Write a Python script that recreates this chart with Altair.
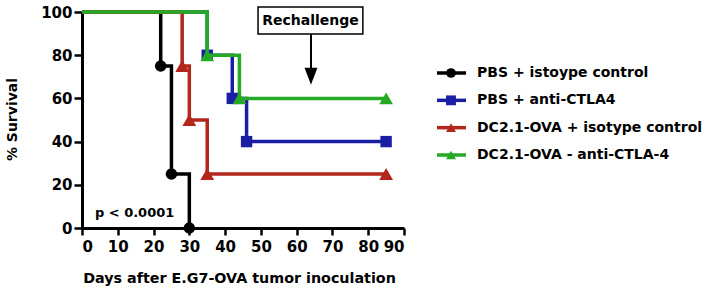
import altair as alt
import pandas as pd

FONT = "DejaVu Sans"

# ---- data ----
series = [
    "PBS + istoype control",
    "PBS + anti-CTLA4",
    "DC2.1-OVA + isotype control",
    "DC2.1-OVA - anti-CTLA-4",
]
colors = ["#000000", "#1a1ea4", "#b3261c", "#26aa26"]
shapes = ["circle", "square", "triangle-up", "triangle-up"]

pbs_iso_days = [0, 22, 25, 30]
pbs_iso_surv = [100, 75, 25, 0]
pbs_ctla_days = [0, 35, 42, 46, 85]
pbs_ctla_surv = [100, 80, 60, 40, 40]
dc_iso_days = [0, 28, 30, 35, 85]
dc_iso_surv = [100, 75, 50, 25, 25]
dc_ctla_days = [0, 35, 44, 85]
dc_ctla_surv = [100, 80, 60, 60]

x_ticks = [0, 10, 20, 30, 40, 50, 60, 70, 80, 90]
y_ticks = [0, 20, 40, 60, 80, 100]

p_label = "p < 0.0001"
rechallenge_label = "Rechallenge"

all_days = [pbs_iso_days, pbs_ctla_days, dc_iso_days, dc_ctla_days]
all_surv = [pbs_iso_surv, pbs_ctla_surv, dc_iso_surv, dc_ctla_surv]

# ---- styling ----
marker_sizes = [135, 130, 190, 190]
legend_sizes = [95, 100, 130, 130]

x_scale = alt.Scale(domain=[0, 90], nice=False, zero=False)
y_scale = alt.Scale(domain=[0, 100], nice=False)

x_axis = alt.Axis(
    values=x_ticks, title="Days after E.G7-OVA tumor inoculation", grid=False,
    tickSize=7, tickWidth=2.5, domainWidth=3, labelPadding=4, labelOverlap=False,
    labelFontSize=15, labelFont=FONT, labelFontWeight="bold",
    titleFontSize=14.3, titleX=157, titleY=50, titleBaseline="middle", titleAlign="center",
)
y_axis = alt.Axis(
    values=y_ticks, title="% Survival", grid=False,
    tickSize=8, tickWidth=2.5, domainWidth=3, labelPadding=2, labelOverlap=False,
    labelFontSize=15, labelFont=FONT, labelFontWeight="bold",
    titleX=-70, titleY=107, titleAngle=-90, titleBaseline="middle", titleAlign="center",
)


def X(field):
    return alt.X(field, scale=x_scale, axis=x_axis)


def Y(field):
    return alt.Y(field, scale=y_scale, axis=y_axis)


layers = []
for i, name in enumerate(series):
    df = pd.DataFrame({"day": all_days[i], "surv": all_surv[i]})
    base = alt.Chart(df)
    line = base.mark_line(interpolate="step-after", strokeWidth=3.5, color=colors[i]).encode(
        x=X("day:Q"), y=Y("surv:Q"), order="day:Q",
    )
    pts = base.transform_filter(alt.datum.day > 0).mark_point(
        shape=shapes[i], filled=True, opacity=1, size=marker_sizes[i], color=colors[i]
    ).encode(x=X("day:Q"), y=Y("surv:Q"))
    layers += [line, pts]

# annotations (positions in data units)
box_df = pd.DataFrame({"day": [49.2], "x2": [78.5], "surv": [89.8], "y2": [102.3],
                       "tx": [63.85], "ty": [96.0], "label": [rechallenge_label]})
box = alt.Chart(box_df).mark_rect(fill="white", stroke="black", strokeWidth=1.5).encode(
    x=X("day:Q"), x2="x2:Q", y=Y("surv:Q"), y2="y2:Q")
box_text = alt.Chart(box_df).mark_text(
    font=FONT, fontSize=14, fontWeight="bold", color="black", baseline="middle", align="center"
).encode(x=X("tx:Q"), y=Y("ty:Q"), text="label:N")

arrow_df = pd.DataFrame({"day": [64.0], "surv": [89.8], "y2": [73.0], "hy": [70.2]})
arrow_line = alt.Chart(arrow_df).mark_rule(color="black", strokeWidth=2).encode(
    x=X("day:Q"), y=Y("surv:Q"), y2="y2:Q")
arrow_head = alt.Chart(arrow_df).mark_point(
    shape="M-0.76,-1L0.76,-1L0,1Z", filled=True, opacity=1, color="black", size=289
).encode(x=X("day:Q"), y=Y("hy:Q"))

p_df = pd.DataFrame({"day": [3.6], "surv": [7.0], "label": [p_label]})
p_text = alt.Chart(p_df).mark_text(
    font=FONT, fontSize=13, fontWeight="bold", color="black", align="left", baseline="middle"
).encode(x=X("day:Q"), y=Y("surv:Q"), text="label:N")

main = alt.layer(*layers, box, box_text, arrow_line, arrow_head, p_text).properties(
    width=322, height=216)

# ---- manual legend ----
leg_df = pd.DataFrame({"series": series, "row": list(range(len(series)))})
leg_y = alt.Y("row:Q", scale=alt.Scale(domain=[0, 3], range=[61, 143], nice=False, zero=False),
              axis=None)
leg_color = alt.Color("series:N", scale=alt.Scale(domain=series, range=colors), legend=None)
leg_shape = alt.Shape("series:N", scale=alt.Scale(domain=series, range=shapes), legend=None)
leg_size = alt.Size("series:N", scale=alt.Scale(domain=series, range=legend_sizes), legend=None)

leg_line = alt.Chart(leg_df).mark_rule(strokeWidth=3.5).encode(
    x=alt.value(7), x2=alt.value(36), y=leg_y, color=leg_color)
leg_pts = alt.Chart(leg_df).mark_point(filled=True, opacity=1).encode(
    x=alt.value(21), y=leg_y, color=leg_color, shape=leg_shape, size=leg_size)
leg_txt = alt.Chart(leg_df).mark_text(
    font=FONT, fontSize=14, fontWeight="bold", color="black", align="left", baseline="middle"
).encode(x=alt.value(47), y=leg_y, text="series:N")

legend = alt.layer(leg_line, leg_pts, leg_txt).properties(width=232, height=216)

chart = alt.hconcat(main, legend, spacing=26, bounds="flush").properties(
    padding={"left": 5, "top": 5, "right": 0, "bottom": 0}
).configure(background="white").configure_view(stroke=None).configure_axis(
    labelFont=FONT, labelFontWeight="bold", labelFontSize=15, labelColor="black",
    titleFont=FONT, titleFontWeight="bold", titleFontSize=14, titleColor="black",
    domainColor="black", tickColor="black", grid=False,
)

chart.save("out.html", embed_options={"renderer": "svg", "actions": False})
